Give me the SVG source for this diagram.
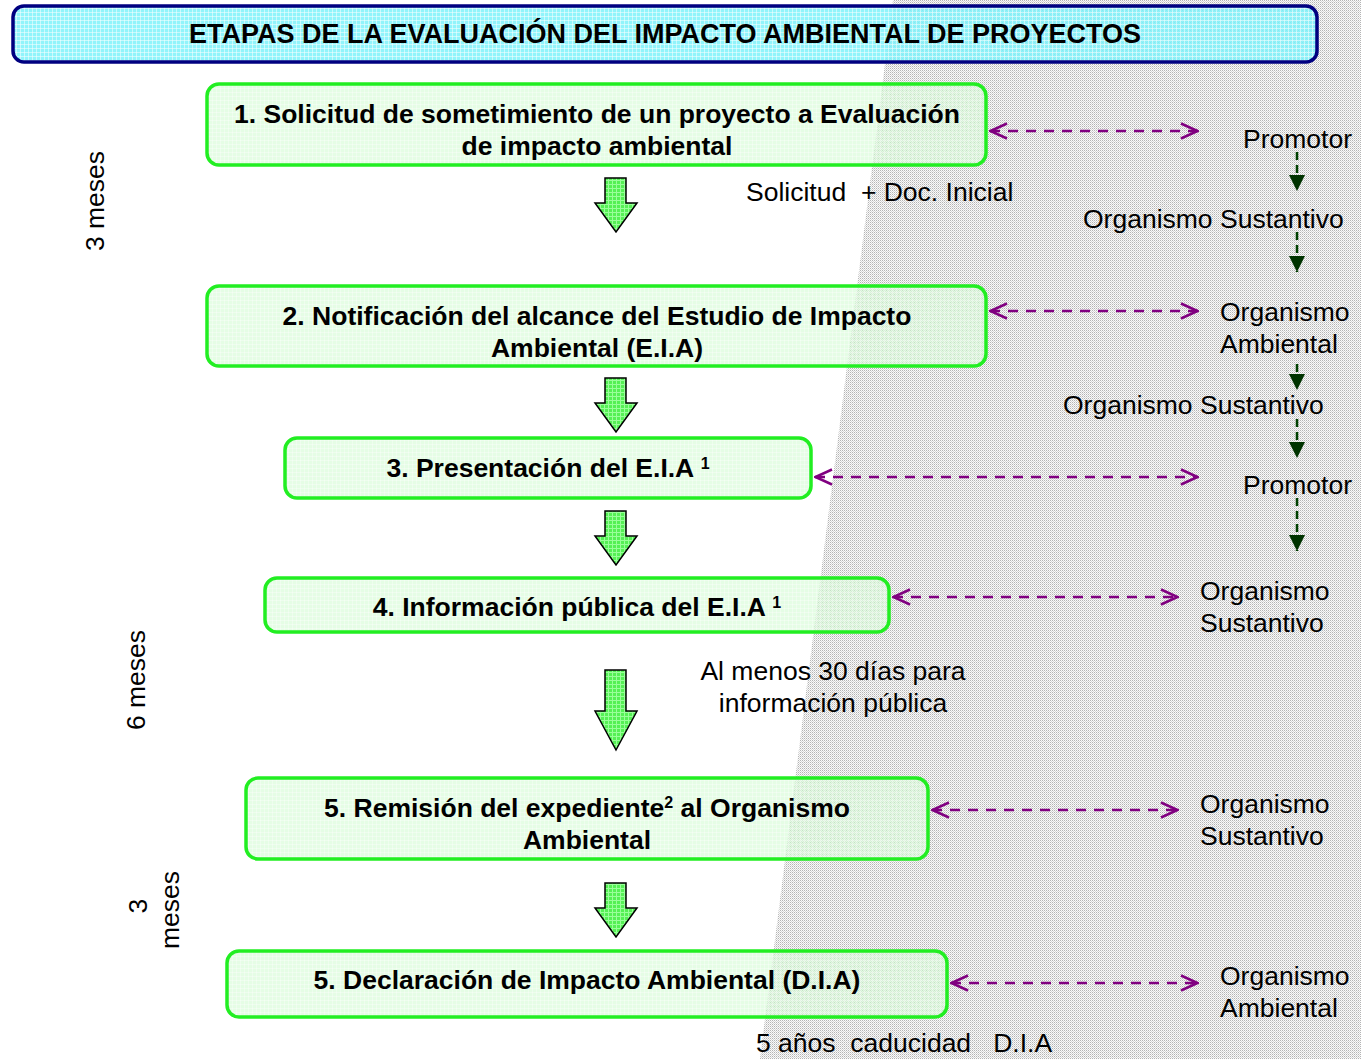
<svg xmlns="http://www.w3.org/2000/svg" width="1361" height="1059" viewBox="0 0 1361 1059">
<defs>
<pattern id="dots" width="2" height="2" patternUnits="userSpaceOnUse">
<rect width="2" height="2" fill="#fafafa"/>
<rect x="0" y="0" width="1" height="1" fill="#b4b4b4"/>
<rect x="1" y="1" width="1" height="1" fill="#d6d6d6"/>
</pattern>
<pattern id="grid" width="4" height="4" patternUnits="userSpaceOnUse">
<rect width="4" height="4" fill="#7ef2fa" fill-opacity="0.85"/>
<path d="M0,0.5 H4 M0.5,0 V4" stroke="#ffffff" stroke-width="1" stroke-opacity="0.5"/>
</pattern>
<pattern id="gfill" width="4" height="4" patternUnits="userSpaceOnUse">
<rect width="4" height="4" fill="#d4fcd4" fill-opacity="0.6"/>
<path d="M0,0.5 H4 M0.5,0 V4" stroke="#ffffff" stroke-width="1" stroke-opacity="0.35"/>
</pattern>
<pattern id="afill" width="4" height="4" patternUnits="userSpaceOnUse">
<rect width="4" height="4" fill="#55f055"/>
<path d="M0,0.5 H4 M0.5,0 V4" stroke="#99ff99" stroke-width="1"/>
</pattern>
<marker id="chev" markerUnits="userSpaceOnUse" markerWidth="20" markerHeight="18" viewBox="0 0 20 18" refX="19" refY="9" orient="auto-start-reverse">
<path d="M2,1.5 L18.5,9 L2,16.5" fill="none" stroke="#800080" stroke-width="2.5"/>
</marker>
<marker id="tri" markerUnits="userSpaceOnUse" markerWidth="16" markerHeight="16" viewBox="0 0 16 16" refX="16" refY="8" orient="auto">
<path d="M0,0 L16,8 L0,16 Z" fill="#003300"/>
</marker>
</defs>
<style>
.box{fill:url(#gfill);stroke:#22ee22;stroke-width:3.5}
.bt{font-family:"Liberation Sans",Arial,sans-serif;font-weight:bold;font-size:26.5px;fill:#000;text-anchor:middle}
.t{font-family:"Liberation Sans",Arial,sans-serif;font-size:26.5px;fill:#000}
.mid{text-anchor:middle}
.blk{fill:url(#afill);stroke:#000;stroke-width:1.5;stroke-linejoin:miter}
.pl{stroke:#800080;stroke-width:2.5;stroke-dasharray:10 8;fill:none;marker-start:url(#chev);marker-end:url(#chev)}
.gl{stroke:#004000;stroke-width:2.5;stroke-dasharray:8 5;fill:none;marker-end:url(#tri)}
</style>
<rect width="1361" height="1059" fill="#ffffff"/>
<polygon points="893,0 1361,0 1361,1059 760,1059" fill="url(#dots)"/>

<g id="title">
<rect x="13" y="6" width="1304" height="56" rx="11" fill="url(#grid)" stroke="#000080" stroke-width="3.5"/>
<text x="665" y="43" class="bt" style="font-size:27px">ETAPAS DE LA EVALUACIÓN DEL IMPACTO AMBIENTAL DE PROYECTOS</text>
</g>

<g id="n1">
<rect x="207" y="84" width="779" height="81" rx="12" class="box"/>
<text x="597" y="123" class="bt">1. Solicitud de sometimiento de un proyecto a Evaluación</text>
<text x="597" y="155" class="bt">de impacto ambiental</text>
</g>
<g id="n2">
<rect x="207" y="286" width="779" height="80" rx="12" class="box"/>
<text x="597" y="325" class="bt">2. Notificación del alcance del Estudio de Impacto</text>
<text x="597" y="357" class="bt">Ambiental (E.I.A)</text>
</g>
<g id="n3">
<rect x="285" y="438" width="526" height="60" rx="12" class="box"/>
<text x="548" y="477" class="bt">3. Presentación del E.I.A <tspan font-size="16" dy="-8">1</tspan></text>
</g>
<g id="n4">
<rect x="265" y="578" width="624" height="54" rx="12" class="box"/>
<text x="577" y="616" class="bt">4. Información pública del E.I.A <tspan font-size="16" dy="-8">1</tspan></text>
</g>
<g id="n5">
<rect x="246" y="778" width="682" height="81" rx="12" class="box"/>
<text x="587" y="817" class="bt">5. Remisión del expediente<tspan font-size="16" dy="-9">2</tspan><tspan dy="9"> al Organismo</tspan></text>
<text x="587" y="849" class="bt">Ambiental</text>
</g>
<g id="n6">
<rect x="227" y="951" width="720" height="66" rx="12" class="box"/>
<text x="587" y="989" class="bt">5. Declaración de Impacto Ambiental (D.I.A)</text>
</g>

<g id="blockarrows">
<polygon class="blk" points="605,178 626,178 626,203 637,203 616,232 595,203 605,203"/>
<polygon class="blk" points="605,378 626,378 626,403 637,403 616,432 595,403 605,403"/>
<polygon class="blk" points="605,511 626,511 626,536 637,536 616,565 595,536 605,536"/>
<polygon class="blk" points="605,670 626,670 626,711 637,711 616,750 595,711 605,711"/>
<polygon class="blk" points="605,883 626,883 626,908 637,908 616,937 595,908 605,908"/>
</g>

<g id="connectors">
<line class="pl" x1="990" y1="131" x2="1198" y2="131"/>
<line class="pl" x1="990" y1="311" x2="1198" y2="311"/>
<line class="pl" x1="815" y1="477" x2="1198" y2="477"/>
<line class="pl" x1="893" y1="597" x2="1178" y2="597"/>
<line class="pl" x1="932" y1="810" x2="1178" y2="810"/>
<line class="pl" x1="951" y1="983" x2="1198" y2="983"/>
<line class="gl" x1="1297" y1="152" x2="1297" y2="191"/>
<line class="gl" x1="1297" y1="232" x2="1297" y2="272"/>
<line class="gl" x1="1297" y1="364" x2="1297" y2="390"/>
<line class="gl" x1="1297" y1="419" x2="1297" y2="458"/>
<line class="gl" x1="1297" y1="498" x2="1297" y2="551"/>
</g>

<g id="labels">
<text x="1243" y="148" class="t">Promotor</text>
<text x="1083" y="228" class="t">Organismo Sustantivo</text>
<text x="1220" y="321" class="t">Organismo</text>
<text x="1220" y="353" class="t">Ambiental</text>
<text x="1063" y="414" class="t">Organismo Sustantivo</text>
<text x="1243" y="494" class="t">Promotor</text>
<text x="1200" y="600" class="t">Organismo</text>
<text x="1200" y="632" class="t">Sustantivo</text>
<text x="1200" y="813" class="t">Organismo</text>
<text x="1200" y="845" class="t">Sustantivo</text>
<text x="1220" y="985" class="t">Organismo</text>
<text x="1220" y="1017" class="t">Ambiental</text>
<text x="746" y="201" class="t" xml:space="preserve">Solicitud  + Doc. Inicial</text>
<text x="833" y="680" class="t mid">Al menos 30 días para</text>
<text x="833" y="712" class="t mid">información pública</text>
<text x="756" y="1052" class="t" xml:space="preserve">5 años  caducidad   D.I.A</text>
<text x="104" y="201" class="t mid" transform="rotate(-90 104 201)">3 meses</text>
<text x="145" y="680" class="t mid" transform="rotate(-90 145 680)">6 meses</text>
<text x="147" y="906" class="t mid" transform="rotate(-90 147 906)">3</text>
<text x="179" y="910" class="t mid" transform="rotate(-90 179 910)">meses</text>
</g>
</svg>
